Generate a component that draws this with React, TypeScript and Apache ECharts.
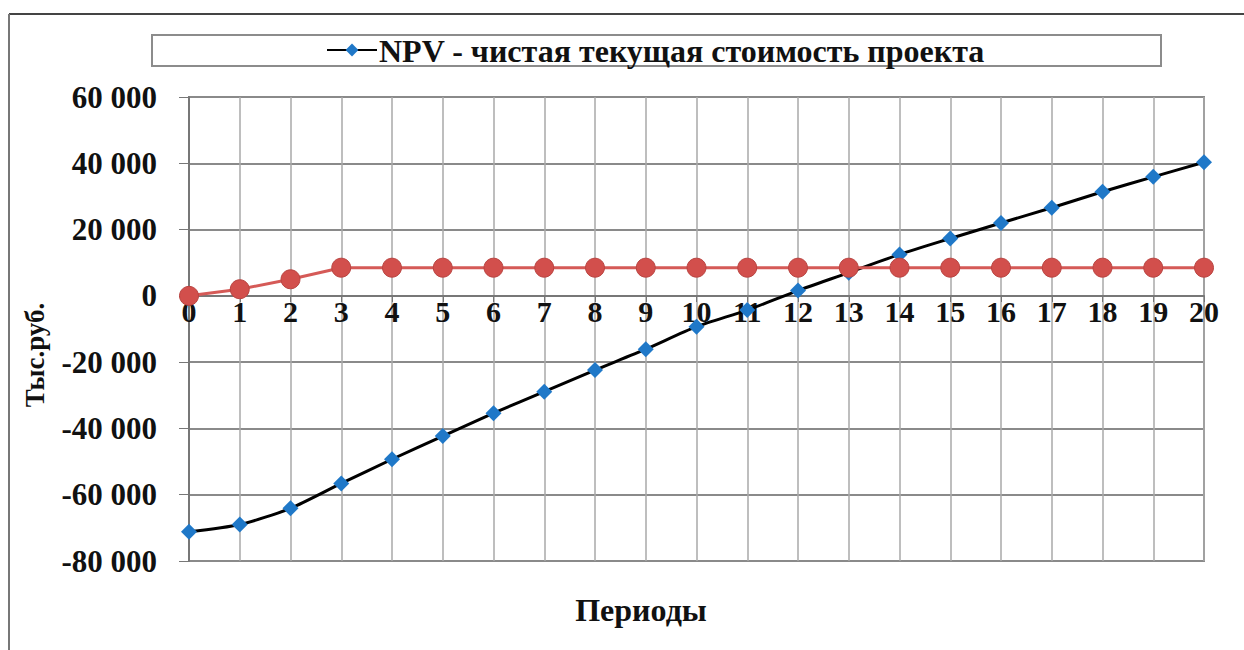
import React, { useEffect, useRef } from "react";
import * as echarts from "echarts";

const periods: string[] = ["0","1","2","3","4","5","6","7","8","9","10","11","12","13","14","15","16","17","18","19","20"];
const npvValues: number[] = [-71200, -69000, -64100, -56600, -49300, -42300, -35400, -28900, -22400, -16100, -9300, -4300, 1600, 7000, 12500, 17300, 22000, 26600, 31400, 35900, 40300];
const secondValues: number[] = [0, 2000, 5000, 8500, 8500, 8500, 8500, 8500, 8500, 8500, 8500, 8500, 8500, 8500, 8500, 8500, 8500, 8500, 8500, 8500, 8500];
const npvName = "NPV - чистая текущая стоимость проекта";
const secondName = "Ряд 2";
const yTitle = "Тыс.руб.";
const xTitle = "Периоды";

const FONT = "Liberation Serif, serif";

function fmt(v: number): string {
  const s = Math.abs(v).toString();
  const parts = s.replace(/\B(?=(\d{3})+(?!\d))/g, " ");
  return (v < 0 ? "-" : "") + parts;
}

const serifStyle = (size: number) => ({ fontFamily: FONT, fontWeight: "bold" as const, fontSize: size, color: "#111" });

export default function App() {
  const ref = useRef<HTMLDivElement>(null);
  useEffect(() => {
    if (!ref.current) return;
    const chart = echarts.init(ref.current, undefined, { renderer: "svg" });
    chart.setOption({
      animation: false,
      backgroundColor: "#ffffff",
      textStyle: { fontFamily: FONT },
      grid: {
        left: 189,
        top: 97,
        width: 1015,
        height: 464,
        show: true,
        borderColor: "#8c8c8c",
        borderWidth: 2,
        containLabel: false,
      },
      legend: {
        data: [npvName],
        left: 326,
        top: 42,
        itemWidth: 50,
        itemHeight: 16,
        itemGap: 0,
        padding: 0,
        formatter: () => "",
        textStyle: serifStyle(10),
      },
      graphic: [
        { type: "line", shape: { x1: 9, y1: 14, x2: 1244, y2: 14 }, style: { stroke: "#444", lineWidth: 2 } },
        { type: "line", shape: { x1: 9, y1: 14, x2: 9, y2: 650 }, style: { stroke: "#777", lineWidth: 2 } },
        { type: "rect", shape: { x: 152, y: 35, width: 1009, height: 31 }, style: { fill: "none", stroke: "#8c8c8c", lineWidth: 2 }, z: -1 },
        {
          type: "text",
          x: 379,
          y: 51,
          style: { text: npvName, fontFamily: FONT, fontWeight: "bold", fontSize: 32, fill: "#111", align: "left", verticalAlign: "middle" },
        },
        {
          type: "text",
          x: 641,
          y: 610,
          style: { text: xTitle, fontFamily: FONT, fontWeight: "bold", fontSize: 32, fill: "#111", align: "center", verticalAlign: "middle" },
        },
        {
          type: "text",
          x: 35,
          y: 355,
          rotation: Math.PI / 2,
          style: { text: yTitle, fontFamily: FONT, fontWeight: "bold", fontSize: 27, fill: "#111", align: "center", verticalAlign: "middle" },
        },
      ],
      xAxis: {
        type: "category",
        data: periods,
        boundaryGap: false,
        position: "bottom",
        offset: -265,
        axisLine: { onZero: false, lineStyle: { color: "#777", width: 2 } },
        axisTick: { show: true, length: 6, lineStyle: { color: "#777" } },
        axisLabel: {
          ...serifStyle(30),
          margin: 0,
          interval: 0,
        },
        splitLine: { show: true, lineStyle: { color: "#a8a8a8", width: 1.5 } },
      },
      yAxis: {
        type: "value",
        min: -80000,
        max: 60000,
        interval: 20000,
        axisLine: { show: true, lineStyle: { color: "#777", width: 2 } },
        axisTick: { show: true, length: 10, lineStyle: { color: "#777" } },
        axisLabel: {
          ...serifStyle(31),
          margin: 32,
          formatter: (v: number) => fmt(v),
        },
        splitLine: { show: true, lineStyle: { color: "#8a8a8a", width: 2 } },
      },
      series: [
        {
          name: npvName,
          type: "line",
          data: npvValues,
          smooth: 0.25,
          symbol: "diamond",
          symbolSize: 16,
          lineStyle: { color: "#000000", width: 3 },
          itemStyle: { color: "#1f78c8" },
          z: 2,
        },
        {
          name: secondName,
          type: "line",
          data: secondValues,
          symbol: "circle",
          symbolSize: 19,
          lineStyle: { color: "#d55a57", width: 3 },
          itemStyle: { color: "#d24f4c", borderColor: "#b94441", borderWidth: 1 },
          z: 3,
        },
      ],
    });
    return () => chart.dispose();
  }, []);
  return <div ref={ref} style={{ position: "absolute", left: 0, top: 0, width: 1244, height: 650 }} />;
}
